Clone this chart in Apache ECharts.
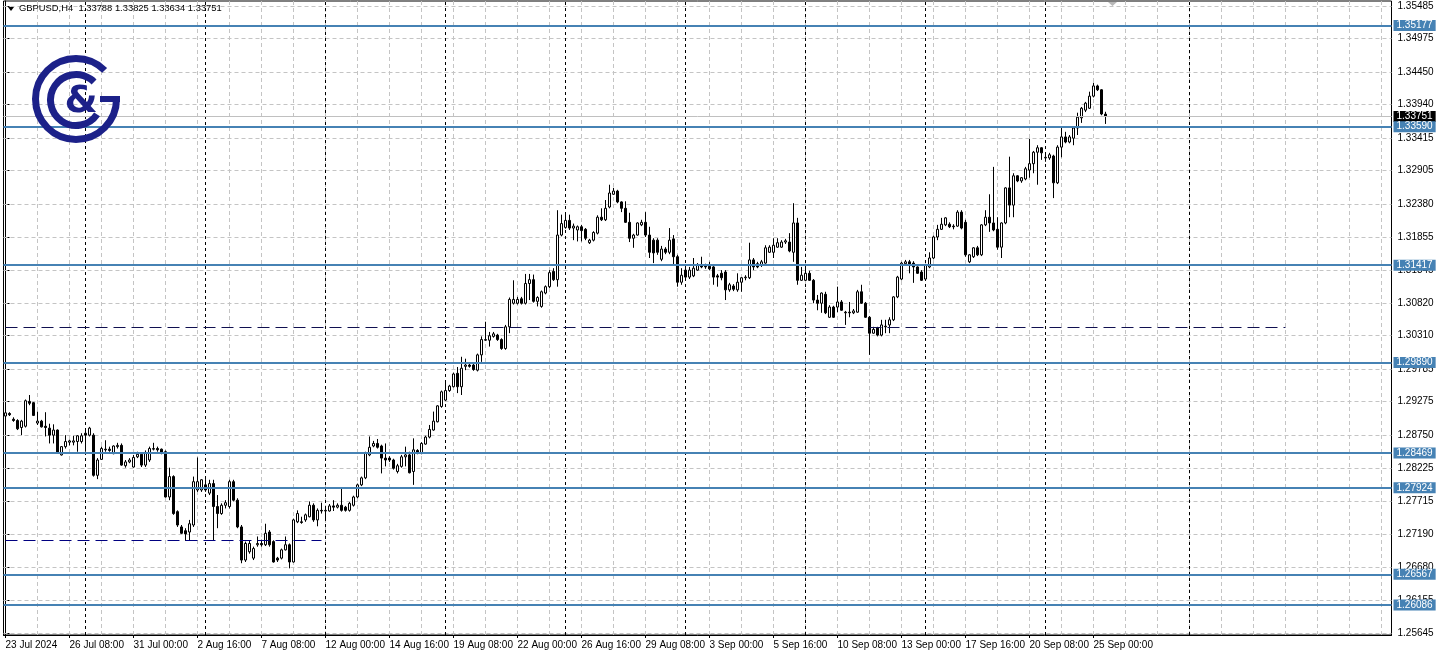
<!DOCTYPE html>
<html><head><meta charset="utf-8">
<script src="https://cdn.jsdelivr.net/npm/echarts@6/dist/echarts.min.js"></script>
<style>html,body{margin:0;padding:0;background:#fff;}#c{width:1439px;height:657px;}</style>
</head><body><div id="c"></div>
<script>
const symbolName = 'GBPUSD,H4';
const open = [
1.2905,1.2909,1.2900,1.2898,1.2887,1.2889,1.2928,1.2926,1.2894,1.2897,
1.2889,1.2886,1.2875,1.2883,1.2844,1.2857,1.2864,1.2864,1.2865,1.2865,
1.2878,1.2875,1.2875,1.2812,1.2837,1.2853,1.2853,1.2846,1.2857,1.2859,
1.2827,1.2833,1.2825,1.2841,1.2845,1.2828,1.2836,1.2853,1.2854,1.2853,
1.2849,1.2778,1.2810,1.2755,1.2731,1.2725,1.2723,1.2734,1.2789,1.2789,
1.2797,1.2784,1.2799,1.2763,1.2752,1.2765,1.2763,1.2802,1.2773,1.2731,
1.2679,1.2692,1.2682,1.2703,1.2705,1.2703,1.2723,1.2708,1.2682,1.2682,
1.2695,1.2703,1.2676,1.2739,1.2739,1.2742,1.2747,1.2765,1.2742,1.2757,
1.2756,1.2756,1.2764,1.2762,1.2765,1.2762,1.2757,1.2765,1.2778,1.2797,
1.2808,1.2844,1.2858,1.2862,1.2858,1.2839,1.2839,1.2836,1.2818,1.2826,
1.2841,1.2844,1.2818,1.2851,1.2847,1.2861,1.2872,1.2883,1.2896,1.2920,
1.2930,1.2945,1.2951,1.2972,1.2951,1.2983,1.2985,1.2985,1.2977,1.3001,
1.3024,1.3024,1.3030,1.3032,1.3025,1.3011,1.3045,1.3082,1.3082,1.3089,
1.3082,1.3113,1.3119,1.3085,1.3077,1.3098,1.3108,1.3132,1.3119,1.3189,
1.3201,1.3212,1.3200,1.3197,1.3202,1.3198,1.3177,1.3181,1.3192,1.3217,
1.3213,1.3233,1.3253,1.3258,1.3241,1.3231,1.3209,1.3184,1.3189,1.3205,
1.3209,1.3189,1.3181,1.3181,1.3151,1.3167,1.3162,1.3183,1.3155,1.3115,
1.3134,1.3123,1.3125,1.3134,1.3142,1.3140,1.3140,1.3139,1.3125,1.3129,
1.3131,1.3103,1.3109,1.3103,1.3115,1.3122,1.3122,1.3150,1.3144,1.3142,
1.3145,1.3162,1.3162,1.3170,1.3170,1.3178,1.3178,1.3162,1.3208,1.3118,
1.3118,1.3129,1.3118,1.3087,1.3082,1.3096,1.3060,1.3076,1.3076,1.3084,
1.3068,1.3068,1.3067,1.3068,1.3100,1.3082,1.3060,1.3035,1.3043,1.3032,
1.3046,1.3048,1.3056,1.3092,1.3120,1.3144,1.3147,1.3145,1.3139,1.3131,
1.3120,1.3139,1.3153,1.3186,1.3198,1.3205,1.3206,1.3203,1.3203,1.3225,
1.3209,1.3147,1.3155,1.3169,1.3158,1.3205,1.3217,1.3208,1.3198,1.3170,
1.3208,1.3263,1.3236,1.3282,1.3274,1.3277,1.3291,1.3301,1.3319,1.3326,
1.3310,1.3310,1.3313,1.3271,1.3327,1.3343,1.3335,1.3341,1.3357,1.3373,
1.3385,1.3388,1.3407,1.3423,1.3417,1.33788];
const high = [
1.2915,1.2911,1.2903,1.2900,1.2899,1.2931,1.2938,1.2927,1.2912,1.2899,
1.2911,1.2893,1.2892,1.2884,1.2858,1.2875,1.2868,1.2874,1.2875,1.2878,
1.2886,1.2888,1.2878,1.2839,1.2857,1.2867,1.2857,1.2859,1.2863,1.2862,
1.2836,1.2839,1.2844,1.2849,1.2847,1.2851,1.2857,1.2863,1.2857,1.2854,
1.2851,1.2824,1.2812,1.2757,1.2734,1.2729,1.2742,1.2810,1.2840,1.2806,
1.2806,1.2805,1.2805,1.2781,1.2768,1.2773,1.2805,1.2805,1.2776,1.2734,
1.2708,1.2710,1.2700,1.2716,1.2711,1.2736,1.2726,1.2710,1.2684,1.2697,
1.2716,1.2705,1.2744,1.2757,1.2747,1.2752,1.2771,1.2768,1.2760,1.2769,
1.2762,1.2767,1.2773,1.2768,1.2793,1.2764,1.2770,1.2780,1.2799,1.2810,
1.2849,1.2873,1.2866,1.2869,1.2860,1.2862,1.2842,1.2838,1.2830,1.2844,
1.2857,1.2849,1.2870,1.2853,1.2864,1.2874,1.2891,1.2912,1.2922,1.2945,
1.2959,1.2954,1.2973,1.2982,1.2998,1.2995,1.2988,1.2988,1.3003,1.3030,
1.3053,1.3037,1.3037,1.3034,1.3027,1.3048,1.3091,1.3118,1.3092,1.3092,
1.3128,1.3128,1.3127,1.3093,1.3102,1.3110,1.3134,1.3137,1.3228,1.3221,
1.3221,1.3221,1.3207,1.3204,1.3205,1.3200,1.3183,1.3195,1.3220,1.3231,
1.3244,1.3268,1.3263,1.3260,1.3242,1.3242,1.3224,1.3191,1.3209,1.3213,
1.3225,1.3202,1.3184,1.3184,1.3172,1.3170,1.3200,1.3189,1.3158,1.3137,
1.3137,1.3139,1.3153,1.3145,1.3155,1.3144,1.3147,1.3142,1.3128,1.3134,
1.3134,1.3114,1.3112,1.3129,1.3123,1.3126,1.3177,1.3153,1.3147,1.3150,
1.3173,1.3173,1.3184,1.3184,1.3181,1.3183,1.3192,1.3239,1.3216,1.3139,
1.3142,1.3133,1.3120,1.3095,1.3099,1.3100,1.3079,1.3078,1.3108,1.3087,
1.3070,1.3084,1.3073,1.3103,1.3111,1.3084,1.3062,1.3045,1.3045,1.3056,
1.3056,1.3060,1.3093,1.3125,1.3147,1.3150,1.3150,1.3148,1.3140,1.3134,
1.3144,1.3162,1.3188,1.3205,1.3216,1.3217,1.3209,1.3206,1.3228,1.3228,
1.3213,1.3159,1.3170,1.3172,1.3206,1.3228,1.3253,1.3296,1.3217,1.3209,
1.3264,1.3312,1.3286,1.3283,1.3280,1.3296,1.3340,1.3321,1.3330,1.3327,
1.3315,1.3318,1.3315,1.3330,1.3359,1.3351,1.3346,1.3359,1.3381,1.3390,
1.3398,1.3414,1.3428,1.3425,1.3418,1.33825];
const low = [
1.2903,1.2905,1.2896,1.2883,1.2875,1.2887,1.2922,1.2905,1.2891,1.2887,
1.2873,1.2862,1.2862,1.2847,1.2843,1.2854,1.2859,1.2859,1.2849,1.2862,
1.2849,1.2873,1.2810,1.2806,1.2836,1.2849,1.2849,1.2845,1.2854,1.2827,
1.2824,1.2831,1.2824,1.2839,1.2825,1.2825,1.2833,1.2851,1.2849,1.2845,
1.2777,1.2773,1.2750,1.2731,1.2720,1.2709,1.2710,1.2731,1.2786,1.2786,
1.2786,1.2781,1.2710,1.2729,1.2750,1.2760,1.2760,1.2771,1.2729,1.2674,
1.2676,1.2689,1.2679,1.2700,1.2700,1.2701,1.2700,1.2675,1.2676,1.2680,
1.2694,1.2666,1.2675,1.2737,1.2736,1.2739,1.2746,1.2739,1.2732,1.2752,
1.2745,1.2755,1.2756,1.2760,1.2755,1.2755,1.2755,1.2763,1.2776,1.2795,
1.2806,1.2842,1.2856,1.2854,1.2815,1.2826,1.2833,1.2821,1.2815,1.2824,
1.2826,1.2815,1.2797,1.2845,1.2845,1.2860,1.2870,1.2882,1.2895,1.2918,
1.2929,1.2943,1.2950,1.2941,1.2938,1.2977,1.2981,1.2976,1.2975,1.2990,
1.3023,1.3014,1.3028,1.3023,1.3009,1.3009,1.3035,1.3080,1.3080,1.3080,
1.3080,1.3087,1.3083,1.3077,1.3075,1.3096,1.3106,1.3117,1.3108,1.3187,
1.3199,1.3197,1.3181,1.3179,1.3179,1.3181,1.3175,1.3179,1.3190,1.3211,
1.3211,1.3231,1.3252,1.3239,1.3225,1.3208,1.3178,1.3169,1.3188,1.3203,
1.3186,1.3153,1.3145,1.3158,1.3148,1.3159,1.3159,1.3142,1.3108,1.3111,
1.3120,1.3120,1.3123,1.3133,1.3137,1.3136,1.3134,1.3111,1.3108,1.3118,
1.3087,1.3100,1.3101,1.3100,1.3100,1.3118,1.3120,1.3134,1.3137,1.3139,
1.3144,1.3161,1.3153,1.3169,1.3169,1.3175,1.3162,1.3147,1.3111,1.3117,
1.3117,1.3117,1.3082,1.3071,1.3067,1.3065,1.3059,1.3059,1.3068,1.3070,
1.3048,1.3060,1.3065,1.3067,1.3081,1.3059,1.3001,1.3034,1.3030,1.3030,
1.3035,1.3035,1.3054,1.3090,1.3118,1.3142,1.3129,1.3114,1.3128,1.3117,
1.3118,1.3137,1.3151,1.3181,1.3197,1.3203,1.3200,1.3198,1.3202,1.3198,
1.3155,1.3145,1.3153,1.3156,1.3156,1.3203,1.3194,1.3195,1.3166,1.3153,
1.3206,1.3217,1.3217,1.3272,1.3271,1.3275,1.3279,1.3286,1.3268,1.3307,
1.3304,1.3307,1.3247,1.3269,1.3311,1.3333,1.3333,1.3330,1.3346,1.3365,
1.3382,1.3387,1.3405,1.3415,1.3377,1.33634];
const close = [
1.2910,1.2907,1.2898,1.2885,1.2897,1.2929,1.2925,1.2906,1.2897,1.2888,
1.2887,1.2875,1.2883,1.2848,1.2857,1.2865,1.2866,1.2866,1.2874,1.2874,
1.2875,1.2886,1.2812,1.2836,1.2854,1.2852,1.2851,1.2858,1.2859,1.2828,
1.2833,1.2836,1.2840,1.2845,1.2828,1.2847,1.2854,1.2854,1.2852,1.2847,
1.2778,1.2810,1.2752,1.2734,1.2721,1.2720,1.2736,1.2802,1.2802,1.2805,
1.2789,1.2799,1.2763,1.2752,1.2765,1.2769,1.2802,1.2773,1.2731,1.2679,
1.2705,1.2705,1.2697,1.2705,1.2703,1.2721,1.2703,1.2676,1.2679,1.2695,
1.2703,1.2676,1.2742,1.2752,1.2738,1.2750,1.2765,1.2742,1.2757,1.2756,
1.2757,1.2764,1.2762,1.2765,1.2757,1.2757,1.2768,1.2778,1.2797,1.2808,
1.2847,1.2856,1.2862,1.2856,1.2839,1.2836,1.2836,1.2823,1.2827,1.2841,
1.2844,1.2816,1.2852,1.2847,1.2862,1.2872,1.2884,1.2897,1.2921,1.2943,
1.2945,1.2952,1.2971,1.2951,1.2980,1.2985,1.2983,1.2978,1.3001,1.3025,
1.3025,1.3031,1.3034,1.3025,1.3011,1.3045,1.3088,1.3088,1.3088,1.3082,
1.3113,1.3119,1.3085,1.3091,1.3100,1.3108,1.3130,1.3119,1.3189,1.3207,
1.3212,1.3200,1.3203,1.3202,1.3196,1.3184,1.3181,1.3193,1.3217,1.3213,
1.3231,1.3255,1.3258,1.3241,1.3231,1.3209,1.3184,1.3189,1.3208,1.3209,
1.3189,1.3162,1.3161,1.3162,1.3167,1.3162,1.3181,1.3155,1.3115,1.3126,
1.3123,1.3134,1.3137,1.3142,1.3139,1.3139,1.3136,1.3123,1.3123,1.3122,
1.3103,1.3111,1.3104,1.3115,1.3122,1.3123,1.3150,1.3139,1.3139,1.3147,
1.3169,1.3170,1.3173,1.3177,1.3178,1.3180,1.3164,1.3208,1.3118,1.3126,
1.3129,1.3118,1.3087,1.3082,1.3098,1.3067,1.3076,1.3060,1.3084,1.3071,
1.3067,1.3067,1.3070,1.3100,1.3082,1.3060,1.3035,1.3041,1.3032,1.3048,
1.3045,1.3056,1.3092,1.3123,1.3145,1.3147,1.3142,1.3139,1.3129,1.3118,
1.3142,1.3153,1.3186,1.3198,1.3206,1.3216,1.3202,1.3202,1.3225,1.3200,
1.3158,1.3158,1.3169,1.3158,1.3205,1.3217,1.3208,1.3197,1.3170,1.3208,
1.3263,1.3236,1.3282,1.3274,1.3279,1.3293,1.3301,1.3319,1.3326,1.3318,
1.3311,1.3315,1.3271,1.3327,1.3343,1.3335,1.3343,1.3357,1.3374,1.3388,
1.3396,1.3407,1.3423,1.3417,1.3379,1.33751];

const xTickBars = [0,16,32,48,64,80,96,112,128,144,160,176,192,208,224,240,256,272];
const xTickLabels = ['23 Jul 2024','26 Jul 08:00','31 Jul 00:00','2 Aug 16:00','7 Aug 08:00','12 Aug 00:00','14 Aug 16:00','19 Aug 08:00','22 Aug 00:00','26 Aug 16:00','29 Aug 08:00','3 Sep 00:00','5 Sep 16:00','10 Sep 08:00','13 Sep 00:00','17 Sep 16:00','20 Sep 08:00','25 Sep 00:00'];
const xGridBars = [8,16,24,32,40,48,56,64,72,80,88,96,104,112,120,128,136,144,152,160,168,176,184,192,200,208,216,224,232,240,248,256,264,272,280,288,296,304,312,320,328,336,344];
const weekSeparators = [20,50,80,110,140,170,200,230,260,296];
const yTicks = [1.25645,1.26155,1.26680,1.27190,1.27715,1.28225,1.28750,1.29275,1.29785,1.30310,1.30820,1.31345,1.31855,1.32380,1.32905,1.33415,1.33940,1.34450,1.34975,1.35485];
const levels = [1.35177,1.33590,1.31417,1.29890,1.28469,1.27924,1.26567,1.26086];
const dashedLevels = [{price:1.30447, from:0, to:320, color:'#101050'},{price:1.27102, from:0, to:79, color:'#000080'}];

const FONT = 'Liberation Sans';
const last = close.length - 1;
const bid = close[last];
const candles = open.map((o, i) => [i, o, close[i], low[i], high[i]]);

const chart = echarts.init(document.getElementById('c'), null, {renderer:'canvas'});
const logoColor = '#1c2189';

chart.setOption({
  animation: false,
  backgroundColor: '#ffffff',
  textStyle: {fontFamily: FONT},
  grid: {left: 3.5, right: 47.5, top: 1, bottom: 22, show: true, borderColor: '#000', borderWidth: 1, backgroundColor: '#fff'},
  xAxis: {
    type: 'value', min: -0.5, max: 346.5, position: 'bottom',
    axisLine: {show: true, onZero: false, lineStyle: {color: '#000', width: 1}},
    axisTick: {show: true, customValues: xTickBars, length: 3, lineStyle: {color: '#000'}},
    axisLabel: {show: true, customValues: xTickBars, align: 'left', margin: 5, fontSize: 10, color: '#000', fontFamily: FONT,
      formatter: v => { const k = xTickBars.indexOf(Math.round(v)); return k >= 0 ? xTickLabels[k] : ''; }},
    splitLine: {show: false}
  },
  yAxis: {
    type: 'value', position: 'right', min: 1.25614, max: 1.35563, scale: true,
    axisLine: {show: true, lineStyle: {color: '#000', width: 1}},
    axisTick: {show: true, customValues: yTicks, length: 4, lineStyle: {color: '#000'}},
    axisLabel: {show: true, customValues: yTicks, margin: 6, fontSize: 10, color: '#000', fontFamily: FONT,
      formatter: v => v.toFixed(5)},
    splitLine: {show: false}
  },
  series: [
    {
      type: 'line', data: [], silent: true,
      markLine: {
        z: 1, silent: true, symbol: 'none', animation: false, precision: 5, label: {show: false},
        data: [
          ...xGridBars.map(v => ({xAxis: v, lineStyle: {color: '#c4c4c4', type: [4, 3], width: 1}})),
          ...yTicks.map(v => ({yAxis: v, lineStyle: {color: '#c4c4c4', type: [4, 3], width: 1}})),
          ...weekSeparators.map(v => ({xAxis: v, lineStyle: {color: '#000', type: [3, 3], width: 1}}))
        ]
      }
    },
    {
      type: 'candlestick', data: candles, barWidth: 2, z: 3,
      itemStyle: {color: '#ffffff', color0: '#000000', borderColor: '#000000', borderColor0: '#000000', borderWidth: 1},
      markLine: {
        z: 4, silent: true, symbol: 'none', animation: false, precision: 5,
        data: [
          ...dashedLevels.map(d => [
            {coord: [d.from, d.price], lineStyle: {color: d.color, type: [12, 6], width: 1}, label: {show: false}},
            {coord: [d.to, d.price], lineStyle: {color: d.color, type: [12, 6], width: 1}}
          ]),
          {yAxis: bid, lineStyle: {color: '#c0c0c0', type: 'solid', width: 1},
            label: {show: true, position: 'end', distance: 2, formatter: bid.toFixed(5), backgroundColor: '#000', color: '#fff',
              fontSize: 10, fontFamily: FONT, padding: [1, 3, 0, 3]}},
          ...levels.map(v => ({yAxis: v, lineStyle: {color: '#4682b4', type: 'solid', width: 2},
            label: {show: true, position: 'end', distance: 2, formatter: v.toFixed(5), backgroundColor: '#4682b4', color: '#fff',
              fontSize: 10, fontFamily: FONT, padding: [1, 3, 0, 3]}}))
        ]
      }
    }
  ],
  graphic: [
    {type: 'polygon', shape: {points: [[8, 7], [14, 7], [11, 11]]}, style: {fill: '#000'}, z: 100},
    {type: 'text', left: 19, top: 4, style: {text: symbolName + '  ' + [open[last], high[last], low[last], close[last]].map(v => v.toFixed(5)).join(' '),
      fill: '#000', font: '9.4px "' + FONT + '"'}, z: 100},
    {type: 'polygon', shape: {points: [[1108, 2], [1117, 2], [1112.5, 6]]}, style: {fill: '#b8b8b8'}, z: 100},
    {type: 'arc', shape: {cx: 76, cy: 99, r: 40.5, startAngle: 0, endAngle: Math.PI * 1.75, clockwise: true},
      style: {stroke: logoColor, lineWidth: 7, fill: null}, z: 100},
    {type: 'rect', shape: {x: 100, y: 96, width: 20, height: 6}, style: {fill: logoColor}, z: 100},
    {type: 'arc', shape: {cx: 76, cy: 100, r: 25.5, startAngle: 0.6, endAngle: Math.PI * 1.75, clockwise: true},
      style: {stroke: logoColor, lineWidth: 7, fill: null}, z: 100},
    {type: 'text', x: 81, y: 102, style: {text: '&', fill: logoColor, font: 'bold 38px "DejaVu Sans"', textAlign: 'center', textVerticalAlign: 'middle'}, z: 101}
  ]
});
</script>
</body></html>
